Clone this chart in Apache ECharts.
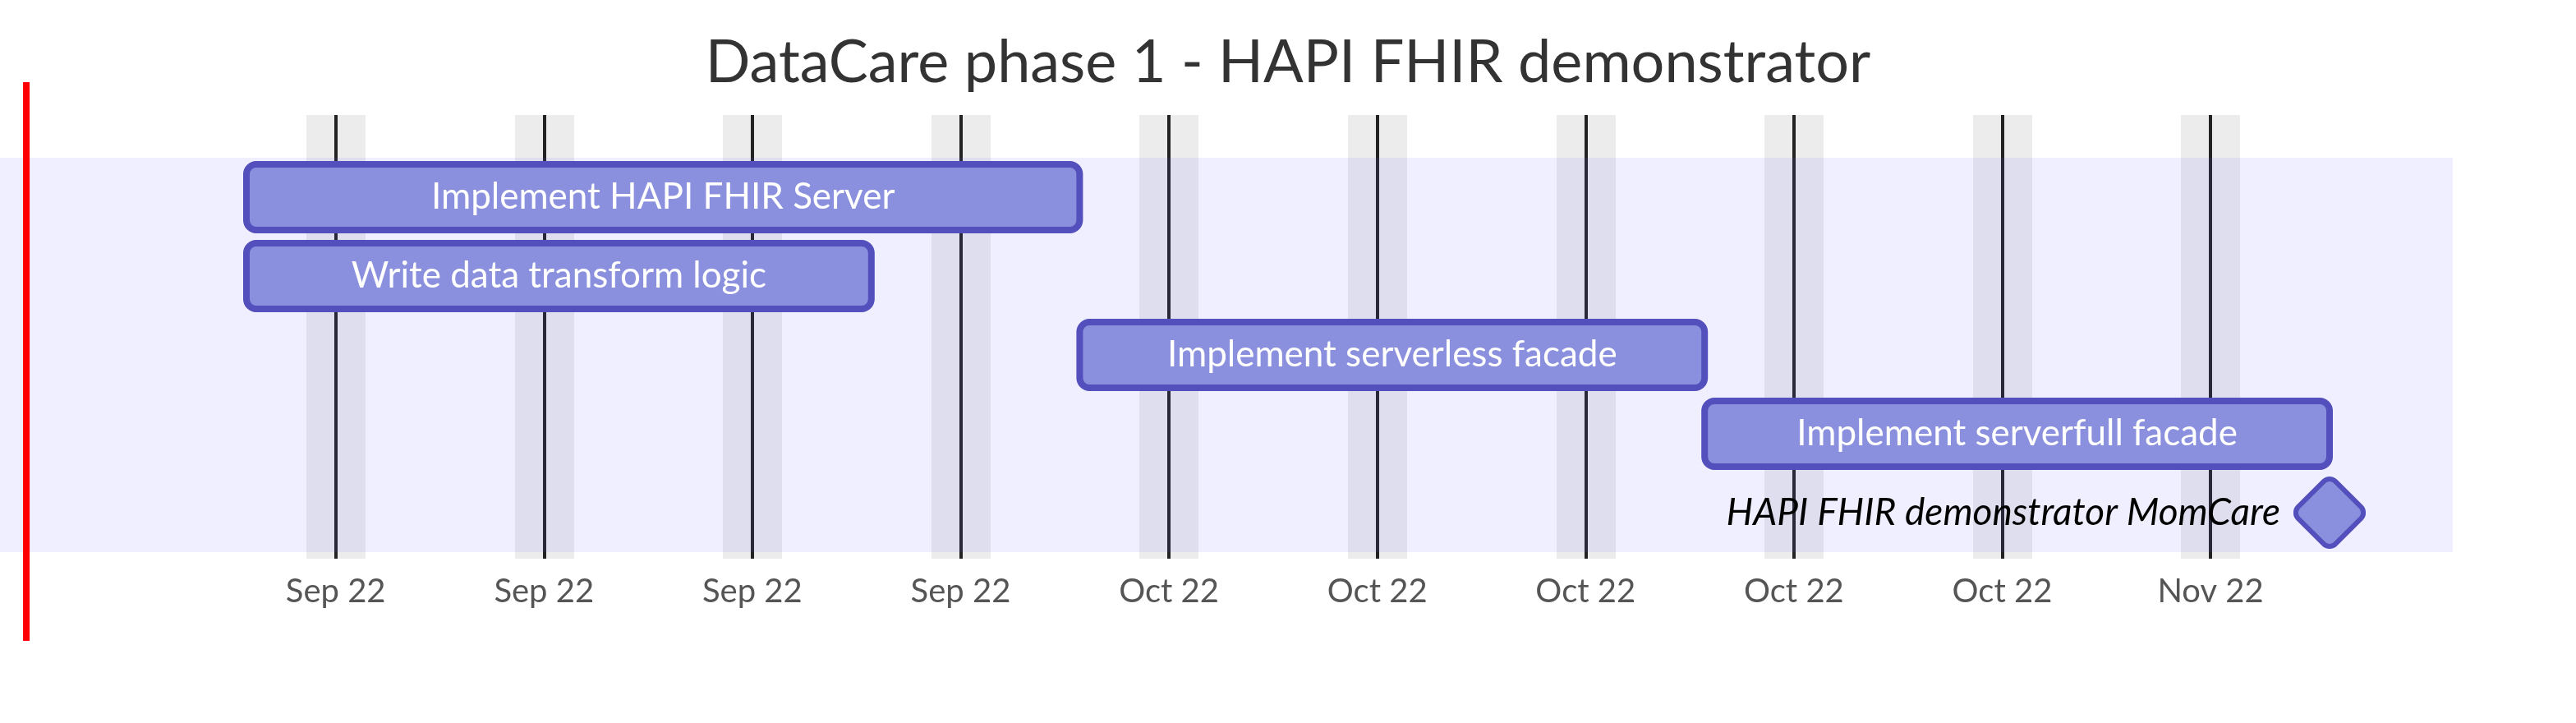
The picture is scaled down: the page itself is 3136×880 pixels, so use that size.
<!DOCTYPE html>
<html><head><meta charset="utf-8">
<script src="https://cdn.jsdelivr.net/npm/echarts@6/dist/echarts.min.js"></script>
<style>html,body{margin:0;padding:0;background:#fff}#c{width:3136px;height:880px}</style>
</head><body><div id="c"></div>
<script>
const chartTitle = 'DataCare phase 1 - HAPI FHIR demonstrator';
const taskNames = ['Implement HAPI FHIR Server', 'Write data transform logic', 'Implement serverless facade', 'Implement serverfull facade', 'HAPI FHIR demonstrator MomCare'];
const taskStart = ['2022-09-01', '2022-09-01', '2022-09-29', '2022-10-20', '2022-11-10'];
const taskEnd = ['2022-09-29', '2022-09-22', '2022-10-20', '2022-11-10', '2022-11-10'];
const taskMilestone = [false, false, false, false, true];
const tickDates = ['2022-09-04', '2022-09-11', '2022-09-18', '2022-09-25', '2022-10-02', '2022-10-09', '2022-10-16', '2022-10-23', '2022-10-30', '2022-11-06'];
const tickLabels = ['Sep 22', 'Sep 22', 'Sep 22', 'Sep 22', 'Oct 22', 'Oct 22', 'Oct 22', 'Oct 22', 'Oct 22', 'Nov 22'];
const todayMarker = '2022-08-24T14:30';

function ts(s) {
  const parts = s.split('T');
  const d = parts[0].split('-').map(Number);
  let h = 0, mi = 0;
  if (parts[1]) { const t = parts[1].split(':').map(Number); h = t[0]; mi = t[1]; }
  return new Date(d[0], d[1] - 1, d[2], h, mi).getTime();
}

const FONT = 'Lato, "Open Sans", sans-serif';
const startTs = taskStart.map(ts);
const endTs = taskEnd.map(ts);
const tickTs = tickDates.map(ts);
const axisMin = Math.min.apply(null, startTs);
const axisMax = Math.max.apply(null, endTs);

const taskData = taskNames.map((n, i) => [i, startTs[i], endTs[i], n, taskMilestone[i] ? 1 : 0]);

const chart = echarts.init(document.getElementById('c'), null, { renderer: 'canvas' });
chart.setOption({
  backgroundColor: '#ffffff',
  animation: false,
  title: {
    text: chartTitle, left: 'center', top: 36,
    textStyle: { fontFamily: FONT, fontSize: 72, fontWeight: 'normal', color: '#333333' }
  },
  grid: [
    { left: 300, right: 300, top: 192, height: 480 },
    { left: 0, right: 150, top: 192, height: 480 }
  ],
  xAxis: [
    {
      gridIndex: 0, type: 'value', min: axisMin, max: axisMax, position: 'bottom', offset: 8, z: 1,
      axisLine: { show: false }, splitLine: { show: false },
      axisTick: { show: true, inside: true, length: 540, customValues: tickTs, lineStyle: { color: '#222222', width: 4 } },
      axisLabel: {
        show: true, customValues: tickTs, margin: 20, color: '#555555', fontSize: 40, fontFamily: FONT,
        formatter: function (v) { const k = tickTs.indexOf(v); return k >= 0 ? tickLabels[k] : ''; }
      }
    },
    {
      gridIndex: 0, type: 'value', min: axisMin, max: axisMax, position: 'top', offset: 52, z: 0,
      axisLine: { show: false }, splitLine: { show: false }, axisLabel: { show: false },
      axisTick: { show: true, inside: true, length: 540, customValues: tickTs, lineStyle: { color: 'rgba(200,200,200,0.35)', width: 72 } }
    },
    { gridIndex: 1, type: 'value', show: false }
  ],
  yAxis: [
    { gridIndex: 0, type: 'category', data: taskNames, inverse: true, show: false },
    {
      gridIndex: 1, type: 'category', data: taskNames, inverse: true, z: 2,
      axisLine: { show: false }, axisTick: { show: false }, axisLabel: { show: false }, splitLine: { show: false },
      splitArea: { show: true, interval: 0, areaStyle: { color: ['rgba(102,102,255,0.1)'] } }
    }
  ],
  series: [
    {
      type: 'custom', xAxisIndex: 0, yAxisIndex: 0, z: 3, clip: false,
      encode: { x: [1, 2], y: 0 },
      data: taskData,
      renderItem: function (params, api) {
        const row = api.value(0);
        const s = api.coord([api.value(1), row]);
        const e = api.coord([api.value(2), row]);
        const rowH = api.size([0, 1])[1];
        const h = rowH * 20 / 24;
        const name = taskNames[row];
        if (api.value(4) === 1) {
          const side = h * 0.8;
          return {
            type: 'group',
            children: [
              {
                type: 'rect', x: s[0], y: s[1], rotation: Math.PI / 4,
                shape: { x: -side / 2, y: -side / 2, width: side, height: side, r: 10 },
                style: { fill: '#8a90dd', stroke: '#534fbc', lineWidth: 6 }
              },
              {
                type: 'text', x: s[0] - 60, y: s[1],
                style: { text: name, fill: '#000000', font: 'italic 46px ' + FONT, align: 'right', verticalAlign: 'middle' }
              }
            ]
          };
        }
        return {
          type: 'group',
          children: [
            {
              type: 'rect',
              shape: { x: s[0], y: s[1] - h / 2, width: e[0] - s[0], height: h, r: 12 },
              style: { fill: '#8a90dd', stroke: '#534fbc', lineWidth: 8 }
            },
            {
              type: 'text', x: (s[0] + e[0]) / 2, y: s[1],
              style: { text: name, fill: '#ffffff', font: '44px ' + FONT, align: 'center', verticalAlign: 'middle' }
            }
          ]
        };
      }
    },
    {
      type: 'custom', xAxisIndex: 0, yAxisIndex: 0, z: 4, clip: false,
      encode: { x: 0, y: 1 },
      data: [[ts(todayMarker), 0]],
      renderItem: function (params, api) {
        const x = api.coord([api.value(0), 0])[0];
        const cs = params.coordSys;
        return {
          type: 'line',
          shape: { x1: x, y1: cs.y - 92, x2: x, y2: cs.y + cs.height + 108 },
          style: { stroke: '#ff0000', lineWidth: 8 }
        };
      }
    }
  ]
});
</script>
</body></html>
